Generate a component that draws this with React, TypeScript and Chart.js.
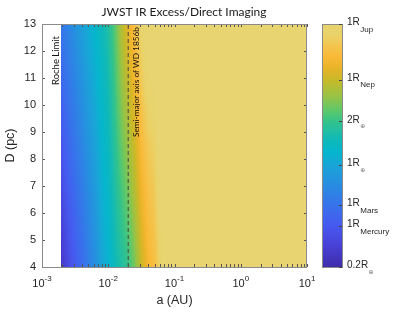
import React, { useEffect, useRef } from "react";
import { Chart, registerables } from "chart.js";

Chart.register(...registerables);

// ---- data ----
const rocheLimitAU = 0.00194;
const wd1856bAU = 0.02;
// semi-major axis columns (AU)
const aColumns = [0.00194, 0.0025, 0.0032, 0.004, 0.005, 0.0063, 0.008, 0.01, 0.0126, 0.0158, 0.02, 0.0251, 0.0316, 0.0398, 0.05, 0.063, 0.079, 0.1, 10];
// distance rows (pc)
const dRows = [4, 8.5, 13];
// minimum detectable radius (Earth radii) per row
const radiusD4 = [0.24, 0.32, 0.4, 0.48, 0.61, 0.74, 1.0, 1.17, 1.47, 1.71, 2.0, 2.62, 3.85, 5.22, 6.09, 8.28, 11.2, 11.2, 11.2];
const radiusD8_5 = [0.37, 0.46, 0.56, 0.67, 0.81, 0.96, 1.21, 1.42, 1.85, 2.43, 3.05, 3.99, 5.64, 6.97, 7.67, 11.2, 11.2, 11.2, 11.2];
const radiusD13 = [0.56, 0.66, 0.8, 0.93, 1.08, 1.26, 1.47, 1.71, 2.33, 3.43, 4.66, 6.09, 8.28, 11.2, 11.2, 11.2, 11.2, 11.2, 11.2];

const xDecadeExponents = [-3, -2, -1, 0, 1];
const yTickMin = 4;
const yTickMax = 13;

// colorbar
const cbMin = 0.2;
const cbMax = 9.3;
const cbTickValues = [0.2, 0.383, 0.532, 1, 2, 3.865, 9.3];
const cbTickMain = ["0.2R", "1R", "1R", "1R", "2R", "1R", "1R"];
const cbTickSub = ["\u2295", "Mercury", "Mars", "\u2295", "\u2295", "Nep", "Jup"];

// colormap stops (fraction of colorbar) and colours
const cmapStops = [0, 0.09, 0.173, 0.255, 0.337, 0.42, 0.473, 0.523, 0.597, 0.646, 0.7, 0.77, 0.819, 0.864, 0.914, 0.955, 1];
const cmapColors: number[][] = [
  [62, 45, 170], [72, 65, 215], [70, 90, 240], [55, 115, 235], [40, 140, 225],
  [25, 165, 215], [5, 182, 205], [15, 185, 185], [50, 195, 140], [95, 200, 105],
  [150, 195, 70], [200, 185, 40], [232, 180, 40], [250, 185, 55], [243, 198, 80],
  [234, 210, 105], [232, 212, 112],
];

const titleText = "JWST IR Excess/Direct Imaging";
const xTitle = "a (AU)";
const yTitle = "D (pc)";
const rocheText = "Roche Limit";
const wdText = "Semi-major axis of WD 1856b";

const TXT = "#262626";
const AXIS_FONT = "'Liberation Sans', Arial, sans-serif";
const CAL_FONT = "Lato, 'Open Sans', sans-serif";

function cmap(t: number): number[] {
  const tt = Math.max(0, Math.min(1, t));
  for (let i = 0; i < cmapStops.length - 1; i++) {
    if (tt <= cmapStops[i + 1]) {
      const f = (tt - cmapStops[i]) / (cmapStops[i + 1] - cmapStops[i]);
      const c0 = cmapColors[i], c1 = cmapColors[i + 1];
      return [0, 1, 2].map((k) => c0[k] + (c1[k] - c0[k]) * f);
    }
  }
  return cmapColors[cmapColors.length - 1];
}

const heatmapPlugin = {
  id: "heatmap",
  beforeDatasetsDraw(chart: any) {
    const { ctx, chartArea: ca, scales } = chart;
    const xs = scales.x, ys = scales.y, cb = scales.cb;
    const w = Math.round(ca.right - ca.left);
    const h = Math.round(ca.bottom - ca.top);
    const off = document.createElement("canvas");
    off.width = w;
    off.height = h;
    const octx = off.getContext("2d")!;
    const img = octx.createImageData(w, h);
    const la = aColumns.map((v) => Math.log10(v));
    const rows = [radiusD4, radiusD8_5, radiusD13].map((r) => r.map((v) => Math.log10(v)));
    const cbSpan = cb.bottom - cb.top;
    for (let i = 0; i < w; i++) {
      const a = xs.getValueForPixel(ca.left + i + 0.5);
      if (a < aColumns[0]) continue;
      const lx = Math.log10(a);
      let k = 0;
      while (k < la.length - 2 && lx > la[k + 1]) k++;
      const f = Math.max(0, Math.min(1, (lx - la[k]) / (la[k + 1] - la[k])));
      const rv = rows.map((r) => r[k] + (r[k + 1] - r[k]) * f);
      for (let j = 0; j < h; j++) {
        const D = ys.getValueForPixel(ca.top + j + 0.5);
        let m = 0;
        while (m < dRows.length - 2 && D > dRows[m + 1]) m++;
        const g = Math.max(0, Math.min(1, (D - dRows[m]) / (dRows[m + 1] - dRows[m])));
        const lr = rv[m] + (rv[m + 1] - rv[m]) * g;
        const R = Math.pow(10, lr);
        const t = (cb.bottom - cb.getPixelForValue(Math.max(cbMin, Math.min(cbMax, R)))) / cbSpan;
        const c = cmap(t);
        const p = (j * w + i) * 4;
        img.data[p] = c[0];
        img.data[p + 1] = c[1];
        img.data[p + 2] = c[2];
        img.data[p + 3] = 255;
      }
    }
    octx.putImageData(img, 0, 0);
    ctx.drawImage(off, ca.left, ca.top);
  },
  afterDraw(chart: any) {
    const { ctx, chartArea: ca, scales } = chart;
    const xs = scales.x, ys = scales.y, cb = scales.cb;
    ctx.save();

    // inner tick marks
    ctx.strokeStyle = "#555";
    ctx.lineWidth = 1;
    ctx.beginPath();
    for (let e = xDecadeExponents[0]; e < xDecadeExponents[xDecadeExponents.length - 1] + 1; e++) {
      for (let mlt = 1; mlt <= 9; mlt++) {
        const v = mlt * Math.pow(10, e);
        if (v > 10 || v < 0.001) continue;
        const px = Math.round(xs.getPixelForValue(v)) + 0.5;
        ctx.moveTo(px, ca.bottom);
        ctx.lineTo(px, ca.bottom - 3);
        ctx.moveTo(px, ca.top);
        ctx.lineTo(px, ca.top + 3);
      }
    }
    for (let v = yTickMin; v <= yTickMax; v++) {
      const py = Math.round(ys.getPixelForValue(v)) + 0.5;
      ctx.moveTo(ca.left, py);
      ctx.lineTo(ca.left + 3, py);
      ctx.moveTo(ca.right, py);
      ctx.lineTo(ca.right - 3, py);
    }
    ctx.stroke();

    // frame
    ctx.strokeStyle = "#8a8a8a";
    ctx.strokeRect(ca.left + 0.5, ca.top + 0.5, ca.right - ca.left - 1, ca.bottom - ca.top);

    // x tick labels 10^n
    ctx.fillStyle = TXT;
    ctx.textBaseline = "middle";
    ctx.textAlign = "left";
    for (const e of xDecadeExponents) {
      const px = xs.getPixelForValue(Math.pow(10, e));
      ctx.font = `11px ${AXIS_FONT}`;
      const wb = ctx.measureText("10").width;
      ctx.font = `8px ${AXIS_FONT}`;
      const es = String(e);
      const we = ctx.measureText(es).width;
      const x0 = px - (wb + we) / 2;
      ctx.font = `11px ${AXIS_FONT}`;
      ctx.fillText("10", x0, ca.bottom + 17);
      ctx.font = `8px ${AXIS_FONT}`;
      ctx.fillText(es, x0 + wb, ca.bottom + 12);
    }

    // axis titles
    ctx.font = `12.5px ${AXIS_FONT}`;
    ctx.textAlign = "center";
    ctx.fillText(xTitle, (ca.left + ca.right) / 2, ca.bottom + 34);
    ctx.save();
    ctx.translate(11, (ca.top + ca.bottom) / 2);
    ctx.rotate(-Math.PI / 2);
    ctx.fillText(yTitle, 0, 0);
    ctx.restore();

    // title
    ctx.font = `12px ${CAL_FONT}`;
    ctx.fillStyle = "#1a1a1a";
    ctx.fillText(titleText, 184, 12);

    // annotations
    ctx.fillStyle = "#111";
    ctx.font = `9.5px ${CAL_FONT}`;
    ctx.save();
    ctx.translate(xs.getPixelForValue(rocheLimitAU) - 5, ca.top + 12);
    ctx.rotate(-Math.PI / 2);
    ctx.textAlign = "right";
    ctx.fillText(rocheText, 0, 0);
    ctx.restore();

    ctx.font = `8.3px ${CAL_FONT}`;
    ctx.save();
    ctx.translate(xs.getPixelForValue(wd1856bAU) + 8, ca.top + 3);
    ctx.rotate(-Math.PI / 2);
    ctx.textAlign = "right";
    ctx.fillText(wdText, 0, 0);
    ctx.restore();

    // colorbar
    const cbL = 322, cbR = 343;
    const grad = ctx.createLinearGradient(0, cb.bottom, 0, cb.top);
    cmapStops.forEach((s, i) => {
      const c = cmapColors[i];
      grad.addColorStop(s, `rgb(${c[0]},${c[1]},${c[2]})`);
    });
    ctx.fillStyle = grad;
    ctx.fillRect(cbL, cb.top, cbR - cbL, cb.bottom - cb.top);
    ctx.strokeStyle = "#8a8a8a";
    ctx.strokeRect(cbL + 0.5, cb.top + 0.5, cbR - cbL - 1, cb.bottom - cb.top);
    ctx.strokeStyle = "#444";
    ctx.beginPath();
    cbTickValues.forEach((v) => {
      const py = Math.round(cb.getPixelForValue(v)) + 0.5;
      ctx.moveTo(cbR - 1, py);
      ctx.lineTo(cbR - 4, py);
    });
    ctx.stroke();

    ctx.fillStyle = TXT;
    ctx.textAlign = "left";
    ctx.textBaseline = "middle";
    cbTickValues.forEach((v, i) => {
      const py = cb.getPixelForValue(v);
      ctx.font = `10px ${AXIS_FONT}`;
      ctx.fillText(cbTickMain[i], cbR + 4, py - 1.5);
      const wm = ctx.measureText(cbTickMain[i]).width;
      ctx.font = `8px ${AXIS_FONT}`;
      if (cbTickSub[i] === "\u2295") {
        ctx.fillStyle = "#777";
        ctx.font = `6px 'DejaVu Sans', sans-serif`;
      }
      ctx.fillText(cbTickSub[i], cbR + 4 + wm + 0.5, py + 5.5);
      ctx.fillStyle = TXT;
    });

    ctx.restore();
  },
};

export default function App() {
  const ref = useRef<HTMLCanvasElement | null>(null);
  useEffect(() => {
    document.body.style.margin = "0";
    const canvas = ref.current!;
    const chart = new Chart(canvas, {
      type: "scatter",
      data: {
        datasets: [
          {
            label: wdText,
            data: [
              { x: wd1856bAU, y: yTickMin },
              { x: wd1856bAU, y: yTickMax },
            ],
            showLine: true,
            borderColor: "rgb(70,70,70)",
            borderWidth: 1,
            borderDash: [4, 3],
            pointRadius: 0,
          },
        ],
      },
      options: {
        animation: false,
        responsive: true,
        maintainAspectRatio: false,
        layout: { padding: { top: 24, right: 92, bottom: 0, left: 0 } },
        plugins: { legend: { display: false }, tooltip: { enabled: false }, title: { display: false } },
        scales: {
          x: {
            type: "logarithmic",
            min: 0.001,
            max: 10,
            grid: { display: false, drawTicks: false },
            border: { display: false },
            ticks: { display: false },
            afterFit: (s: any) => {
              s.height = 46;
            },
          },
          y: {
            type: "linear",
            min: yTickMin,
            max: yTickMax,
            grid: { display: false, drawTicks: false },
            border: { display: false },
            ticks: {
              stepSize: 1,
              padding: 6,
              color: TXT,
              font: { family: "'Liberation Sans', Arial, sans-serif", size: 11 },
            },
            afterFit: (s: any) => {
              s.width = 42;
            },
          },
          cb: {
            type: "logarithmic",
            axis: "y",
            position: "right",
            display: false,
            min: cbMin,
            max: cbMax,
          },
        },
      } as any,
      plugins: [heatmapPlugin],
    });
    return () => chart.destroy();
  }, []);
  return (
    <div style={{ position: "relative", width: 399, height: 313 }}>
      <canvas ref={ref} />
    </div>
  );
}
